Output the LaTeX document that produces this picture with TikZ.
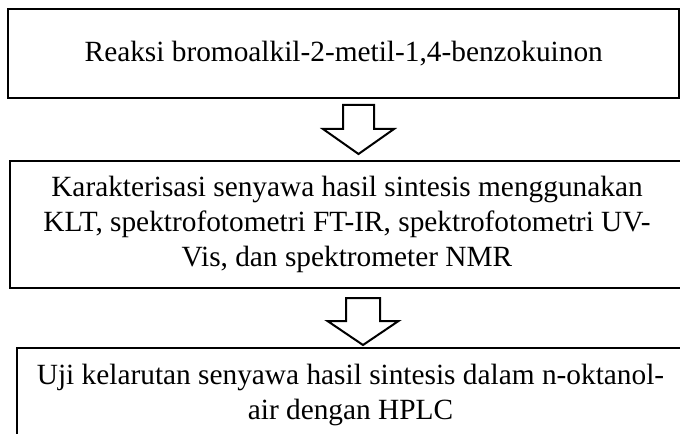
\documentclass[tikz,border=0pt]{standalone}
\usepackage{fontspec}
\setmainfont{Liberation Serif}
\usetikzlibrary{calc}
\begin{document}
\begin{tikzpicture}[x=0.75pt,y=-0.75pt,
  box/.style={draw, line width=1.5pt, align=center, inner sep=0pt,
    font=\fontsize{22}{26.25}\selectfont},
  blockarrow/.style={draw, line width=1.5pt, line join=miter, fill=white}]
\useasboundingbox (0,0) rectangle (680,434);
\clip (0,0) rectangle (680,434);
\node[box, minimum width=503.6pt, minimum height=66.75pt] (b1) at (343.75,53.5)
  {Reaksi bromoalkil-2-metil-1,4-benzokuinon};
\node[box, minimum width=505.5pt, minimum height=95.25pt] (b2) at (347,224.5)
  {Karakterisasi senyawa hasil sintesis menggunakan\\
   KLT, spektrofotometri FT-IR, spektrofotometri UV-\\
   Vis, dan spektrometer NMR};
\node[box, minimum width=500.25pt, minimum height=69.75pt] (b3) at (350.5,394.5)
  {Uji kelarutan senyawa hasil sintesis dalam n-oktanol-\\
   air dengan HPLC};
\coordinate (a1) at ($(b1.south)+(14.75,6)$);
\coordinate (a2) at ($(b2.south)+(16,9)$);
\draw[blockarrow, shift={(a1)}] (-15.5,0) -- (15.5,0) -- (15.5,24) -- (35.5,24)
  -- (0,49) -- (-35.5,24) -- (-15.5,24) -- cycle;
\draw[blockarrow, shift={(a2)}] (-17,0) -- (17,0) -- (17,23) -- (35.5,23)
  -- (0,47) -- (-35.5,23) -- (-17,23) -- cycle;
\end{tikzpicture}
\end{document}
